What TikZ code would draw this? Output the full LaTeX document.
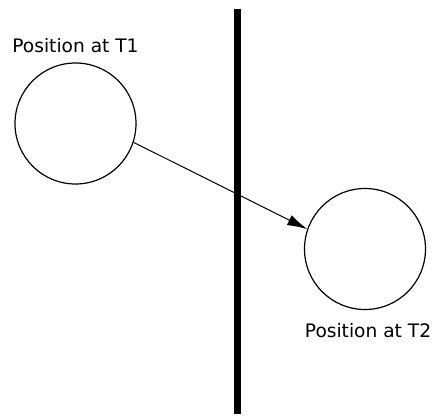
\documentclass[tikz,border=0pt]{standalone}
\usepackage{fontspec}
\setmainfont{DejaVu Sans}
\usetikzlibrary{positioning,arrows.meta}
\tikzset{
body/.style  = {draw, circle, minimum size=121pt, inner sep=0pt, line width=1.2pt},
lbl/.style  = {inner sep=0pt, font=\fontsize{18.6}{22}\selectfont},
wall/.style = {line width=7pt},
}

\begin{document}
\begin{tikzpicture}[x=1pt, y=-1pt, >={Latex[length=20pt,width=11pt]}]

	\useasboundingbox (0,0) rectangle (434,418);
	\node[body] (posA) at (75.5,123.5) {};
	\node[body] (posB) at (365,249) {};
	\node[lbl, above=9pt of posA] (lblA) {Position at T1};
	\node[lbl, below=13pt of posB, xshift=3pt] (lblB) {Position at T2};
	\coordinate (wallTop) at (237,9);
	\coordinate (wallBot) at (237,414);

	\draw[wall] (wallTop) -- (wallBot);
	\draw[->, line width=1pt] (posA.-18) -- (posB.161);

\end{tikzpicture}
\end{document}
